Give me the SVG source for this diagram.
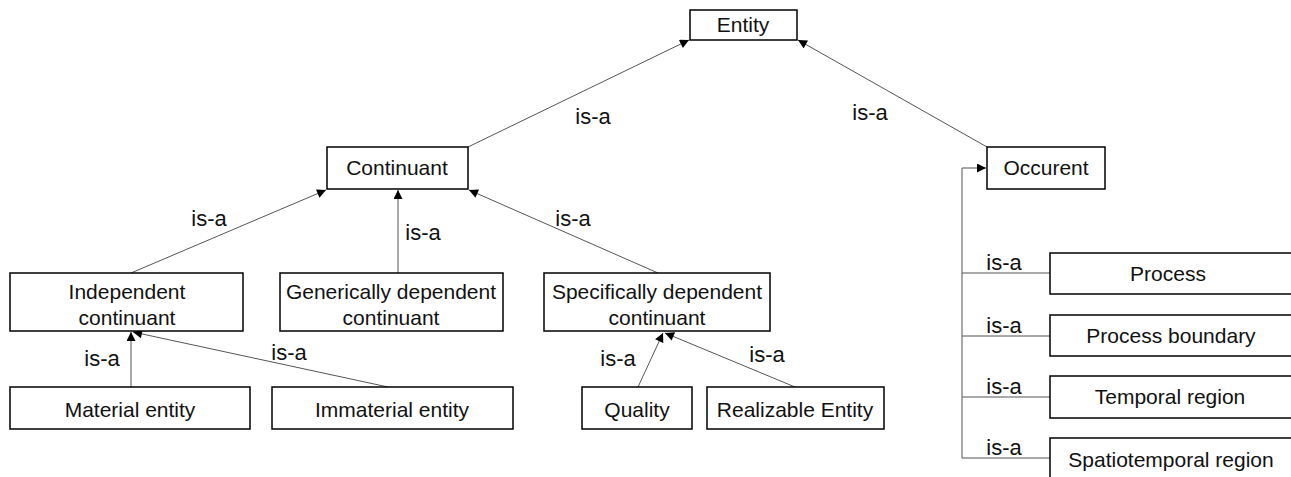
<svg xmlns="http://www.w3.org/2000/svg" width="1291" height="477" viewBox="0 0 1291 477">
<style>
.box{fill:#fff;stroke:#000;stroke-width:1.5}
.t{font-family:"Liberation Sans",Arial,sans-serif;font-size:21px;fill:#111;text-anchor:middle}
.l{font-family:"Liberation Sans",Arial,sans-serif;font-size:22px;fill:#111;text-anchor:middle}
.c{fill:none;stroke:#555;stroke-width:1}
</style>
<defs>
<marker id="ah" viewBox="0 0 10 10" refX="10" refY="5" markerWidth="10" markerHeight="9" markerUnits="userSpaceOnUse" orient="auto">
<path d="M0,0 L10,5 L0,10 z" fill="#000"/>
</marker>
</defs>
<g id="connectors">
<line class="c" x1="468" y1="147" x2="689" y2="40" marker-end="url(#ah)"/>
<line class="c" x1="987" y1="147" x2="798" y2="40" marker-end="url(#ah)"/>
<line class="c" x1="131" y1="273" x2="326" y2="190" marker-end="url(#ah)"/>
<line class="c" x1="398" y1="273" x2="398" y2="190" marker-end="url(#ah)"/>
<line class="c" x1="658" y1="273" x2="469" y2="190" marker-end="url(#ah)"/>
<line class="c" x1="131" y1="387" x2="131" y2="332" marker-end="url(#ah)"/>
<line class="c" x1="388" y1="387" x2="133" y2="332" marker-end="url(#ah)"/>
<line class="c" x1="638" y1="387" x2="663" y2="333" marker-end="url(#ah)"/>
<line class="c" x1="795" y1="387" x2="665" y2="333" marker-end="url(#ah)"/>
<polyline class="c" points="962,458 962,168 986,168" marker-end="url(#ah)"/>
<line class="c" x1="962" y1="273" x2="1050" y2="273"/>
<line class="c" x1="962" y1="336" x2="1050" y2="336"/>
<line class="c" x1="962" y1="397" x2="1050" y2="397"/>
<line class="c" x1="962" y1="458" x2="1050" y2="458"/>
<text class="l" x="593" y="124">is-a</text>
<text class="l" x="870" y="120">is-a</text>
<text class="l" x="209" y="226">is-a</text>
<text class="l" x="423" y="240">is-a</text>
<text class="l" x="573" y="226">is-a</text>
<text class="l" x="102" y="366">is-a</text>
<text class="l" x="289" y="360">is-a</text>
<text class="l" x="618" y="366">is-a</text>
<text class="l" x="767" y="362">is-a</text>
<text class="l" x="1004" y="270">is-a</text>
<text class="l" x="1004" y="333">is-a</text>
<text class="l" x="1004" y="394">is-a</text>
<text class="l" x="1004" y="455">is-a</text>
</g>
<g id="entity"><rect class="box" x="690" y="10" width="107" height="30"/><text class="t" x="743" y="32">Entity</text></g>
<g id="continuant"><rect class="box" x="327" y="147" width="141" height="42"/><text class="t" x="397" y="175">Continuant</text></g>
<g id="occurent"><rect class="box" x="987" y="147" width="118" height="42"/><text class="t" x="1046" y="175">Occurent</text></g>
<g id="independent"><rect class="box" x="10" y="273" width="233" height="58"/><text class="t" x="127" y="299">Independent</text><text class="t" x="127" y="325">continuant</text></g>
<g id="generically"><rect class="box" x="280" y="273" width="223" height="58"/><text class="t" x="391" y="299">Generically dependent</text><text class="t" x="391" y="325">continuant</text></g>
<g id="specifically"><rect class="box" x="544" y="273" width="226" height="58"/><text class="t" x="657" y="299">Specifically dependent</text><text class="t" x="657" y="325">continuant</text></g>
<g id="material"><rect class="box" x="10" y="387" width="240" height="42"/><text class="t" x="130" y="417">Material entity</text></g>
<g id="immaterial"><rect class="box" x="272" y="387" width="241" height="42"/><text class="t" x="392" y="417">Immaterial entity</text></g>
<g id="quality"><rect class="box" x="582" y="387" width="110" height="42"/><text class="t" x="637" y="417">Quality</text></g>
<g id="realizable"><rect class="box" x="707" y="387" width="177" height="42"/><text class="t" x="795" y="417">Realizable Entity</text></g>
<g id="process"><rect class="box" x="1050" y="253" width="245" height="41"/><text class="t" x="1168" y="281">Process</text></g>
<g id="process-boundary"><rect class="box" x="1050" y="315" width="245" height="41"/><text class="t" x="1171" y="343">Process boundary</text></g>
<g id="temporal"><rect class="box" x="1050" y="376" width="245" height="42"/><text class="t" x="1170" y="404">Temporal region</text></g>
<g id="spatiotemporal"><rect class="box" x="1050" y="438" width="245" height="45"/><text class="t" x="1171" y="467">Spatiotemporal region</text></g>
</svg>
